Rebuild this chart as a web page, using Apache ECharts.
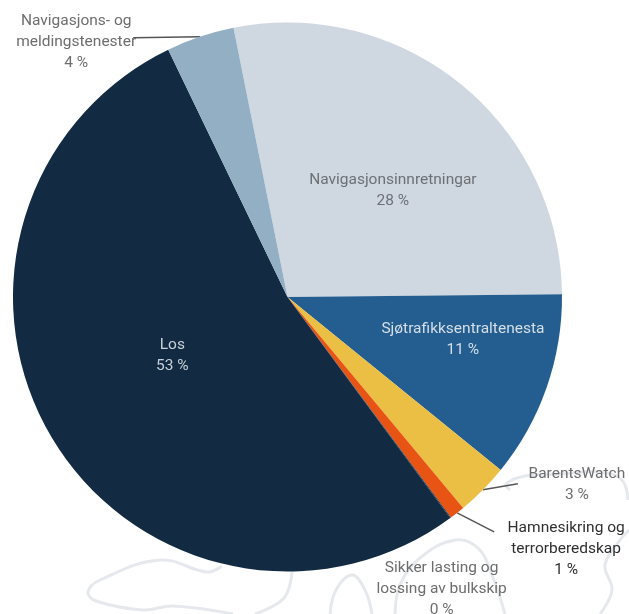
<!DOCTYPE html>
<html><head><meta charset="utf-8">
<script src="https://cdn.jsdelivr.net/npm/echarts@6/dist/echarts.min.js"></script>
<style>html,body{margin:0;padding:0;background:#fff}#c{width:629px;height:614px}</style>
</head><body><div id="c"></div>
<script>
// Data (clockwise from the top)
const categories = [
  'Navigasjonsinnretningar',
  'Sjøtrafikksentraltenesta',
  'BarentsWatch',
  'Hamnesikring og\nterrorberedskap',
  'Sikker lasting og\nlossing av bulkskip',
  'Los',
  'Navigasjons- og\nmeldingstenester'
];
const shares = [28.0, 11.0, 3.1, 0.9, 0.05, 52.95, 4.0];
const colors = ['#cfd7e0', '#245e90', '#ebbf43', '#e85414', '#122b42', '#122b42', '#93afc3'];

// label styling / layout (not data)
const labelColors = ['#6d7176', '#d6dee6', '#6d6d6d', '#2f2f2f', '#6d6d6d', '#c9d1d9', '#6d6d6d'];
const insideOffsets = {0: [17, 3], 1: [43, -4], 5: [5, -14]};
// outside: [lineEndDx, lineEndDy, labelDx, labelDy] relative to arc anchor
const outsideLayout = {
  2: [35, -6, 94, -5],
  3: [37, 19, 109, 36],
  4: null,
  6: [-67, 1, -124, 5]
};
const extraOutside = {4: [-9, 71]};

const data = categories.map((name, i) => {
  const inside = insideOffsets[i] !== undefined;
  return {
    name: name,
    value: shares[i],
    itemStyle: {color: colors[i]},
    label: inside
      ? {position: 'inside', offset: insideOffsets[i], color: labelColors[i]}
      : {position: 'outside', color: labelColors[i]},
    labelLine: {show: !inside && i !== 4}
  };
});

const chart = echarts.init(document.getElementById('c'), null, {renderer: 'canvas'});

const decoStyle = {stroke: '#e5e9ed', lineWidth: 3, fill: null};
chart.setOption({
  backgroundColor: '#ffffff',
  animation: false,
  graphic: [
    {type: 'polyline', z: -10, silent: true, shape: {smooth: 0.4, points: [[222,566],[207,572],[160,560],[100,580],[88,592],[96,601],[143,610],[173,606],[233,614]]}, style: decoStyle},
    {type: 'polyline', z: -10, silent: true, shape: {smooth: 0.4, points: [[292,572],[284,598],[255,614]]}, style: decoStyle},
    {type: 'polyline', z: -10, silent: true, shape: {smooth: 0.4, points: [[510,490],[506,484],[525,476],[560,474],[600,472],[622,480],[628,500]]}, style: decoStyle},
    {type: 'polyline', z: -10, silent: true, shape: {smooth: 0.4, points: [[330,614],[336,590],[352,575],[365,590],[372,614]]}, style: decoStyle},
    {type: 'polyline', z: -10, silent: true, shape: {smooth: 0.4, points: [[395,614],[400,585],[420,558],[455,540],[478,548],[492,575],[505,614]]}, style: decoStyle},
    {type: 'polyline', z: -10, silent: true, shape: {smooth: 0.4, points: [[600,614],[612,590],[605,565],[620,540],[629,530]]}, style: decoStyle}
  ],
  series: [{
    type: 'pie',
    center: [287.5, 297],
    radius: [0, 274.5],
    startAngle: 101.35,
    clockwise: true,
    avoidLabelOverlap: false,
    data: data,
    itemStyle: {borderWidth: 0},
    emphasis: {disabled: true},
    label: {
      show: true,
      fontFamily: 'Roboto, "DejaVu Sans", sans-serif',
      fontSize: 15.5,
      lineHeight: 21,
      align: 'center',
      formatter: p => p.name + '\n' + Math.round(p.percent) + ' %'
    },
    labelLine: {
      show: true,
      length: 10,
      length2: 10,
      lineStyle: {color: '#555', width: 1.5}
    },
    labelLayout: function (params) {
      const i = params.dataIndex;
      const pts = params.labelLinePoints;
      if (!pts || insideOffsets[i] !== undefined) return {};
      const a = pts[0];
      if (i === 4) {
        const e = extraOutside[4];
        return {x: a[0] + e[0], y: a[1] + e[1], align: 'center', verticalAlign: 'middle'};
      }
      const L = outsideLayout[i];
      const end = [a[0] + L[0], a[1] + L[1]];
      return {
        x: a[0] + L[2], y: a[1] + L[3],
        align: 'center', verticalAlign: 'middle',
        labelLinePoints: [a, end, end]
      };
    }
  }]
});
</script>
</body></html>
